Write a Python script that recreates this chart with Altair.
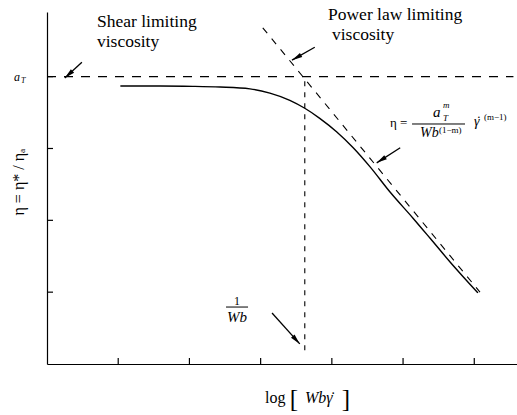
import math
import altair as alt
import pandas as pd

# ---------------- data ----------------
curve_x = [1.03, 1.59, 2.05, 2.43, 2.85, 3.13, 3.41, 3.62, 3.83, 4.07, 4.30, 4.54, 4.82, 5.14, 5.38, 5.66, 6.05]
curve_y = [3.87, 3.87, 3.865, 3.855, 3.83, 3.77, 3.67, 3.56, 3.42, 3.23, 3.01, 2.74, 2.39, 2.03, 1.75, 1.42, 0.99]
power_x = [3.03, 6.08]
power_y = [4.68, 1.00]
a_T = 4.0
inv_Wb = 3.62
x_ticks = [1, 2, 3, 4, 5, 6]
y_ticks = [1, 2, 3, 4]

# arrows: tail -> tip (data units)
arrow_x1 = [0.49, 3.76, 3.16, 4.96]
arrow_y1 = [4.20, 4.41, 0.71, 3.01]
arrow_x2 = [0.25, 3.44, 3.55, 4.63]
arrow_y2 = [3.98, 4.23, 0.28, 2.80]

# ---------------- geometry ----------------
W, H = 470, 352
XD, YD = [0, 6.6], [0, 4.9]
sx, sy = W / (XD[1] - XD[0]), H / (YD[1] - YD[0])
FONT = "Liberation Serif"

XS = alt.Scale(domain=XD, nice=False, zero=False)
YS = alt.Scale(domain=YD, nice=False, zero=False)
AX = alt.Axis(title=None, ticks=False, labels=False, grid=False, domain=True,
              domainColor="black", domainWidth=1.2)


def ex(f):
    return alt.X(f, type="quantitative", scale=XS, axis=AX)


def ey(f):
    return alt.Y(f, type="quantitative", scale=YS, axis=AX)


# ---------------- layers ----------------
curve_df = pd.DataFrame({"x": curve_x, "y": curve_y})
curve = alt.Chart(curve_df).mark_line(color="black", strokeWidth=1.4, interpolate="monotone").encode(
    x=ex("x"), y=ey("y"))

power_df = pd.DataFrame({"x": power_x, "y": power_y})
power = alt.Chart(power_df).mark_line(color="black", strokeWidth=1.1, strokeDash=[7, 7]).encode(
    x=ex("x"), y=ey("y"))

hdash = alt.Chart(pd.DataFrame({"x": [XD[0]], "x2": [6.55], "y": [a_T]})).mark_rule(
    color="black", strokeWidth=1.1, strokeDash=[9, 8]).encode(x=ex("x"), x2="x2:Q", y=ey("y"))

vdash = alt.Chart(pd.DataFrame({"x": [inv_Wb], "y": [0.19], "y2": [a_T]})).mark_rule(
    color="black", strokeWidth=1.1, strokeDash=[5, 6]).encode(x=ex("x"), y=ey("y"), y2="y2:Q")

yt = alt.Chart(pd.DataFrame({"v": y_ticks})).mark_rule(color="black", strokeWidth=1.2).encode(
    y=ey("v"), x=alt.value(0), x2=alt.value(6))
xt = alt.Chart(pd.DataFrame({"v": x_ticks})).mark_rule(color="black", strokeWidth=1.2).encode(
    x=ex("v"), y=alt.value(H), y2=alt.value(H - 6))

arr_df = pd.DataFrame({"x1": arrow_x1, "y1": arrow_y1, "x2": arrow_x2, "y2": arrow_y2})
arr_df["ang"] = [
    math.degrees(math.atan2((b - a) * sx, (d - c) * sy)) % 360
    for a, b, c, d in zip(arrow_x1, arrow_x2, arrow_y1, arrow_y2)
]
shafts = alt.Chart(arr_df).mark_rule(color="black", strokeWidth=1.3).encode(
    x=ex("x1"), y=ey("y1"), x2="x2:Q", y2="y2:Q")
heads = alt.Chart(arr_df).mark_point(
    shape="M0,0L-0.45,2L0.45,2Z", filled=True, color="black", opacity=1, size=110, strokeWidth=0
).encode(x=ex("x2"), y=ey("y2"), angle=alt.Angle("ang:Q", scale=None))

# fraction bars
bars = alt.Chart(pd.DataFrame({"x": [2.514, 5.126], "x2": [2.823, 5.870], "y": [0.793, 3.341]})).mark_rule(
    color="black", strokeWidth=1.0).encode(x=ex("x"), x2="x2:Q", y=ey("y"))


def text_layer(texts, xs, ys, sizes, italic=False, align="left", baseline="alphabetic", angle=0):
    df = pd.DataFrame({"t": texts, "x": xs, "y": ys, "s": sizes})
    kw = dict(font=FONT, color="black", align=align, baseline=baseline, angle=angle)
    if italic:
        kw["fontStyle"] = "italic"
    return alt.Chart(df).mark_text(**kw).encode(
        x=ex("x"), y=ey("y"), text="t:N", size=alt.Size("s:Q", scale=None, legend=None))


reg = text_layer(
    ["Shear limiting", "viscosity", "Power law limiting", "viscosity", "log", "[", "]",
     "η =", "(1−m)", "(m−1)"],
    [0.702, 0.702, 3.946, 4.002, 3.061, 3.41, 4.14, 4.817, 5.505, 6.137],
    [4.691, 4.413, 4.788, 4.510, -0.543, -0.60, -0.60, 3.299, 3.215, 3.396],
    [17.5, 17.5, 17.5, 17.5, 16, 25, 25, 13, 9, 9])

ital = text_layer(
    ["Wbγ", "a", "T", "m", "Wb", "γ", "a", "T"],
    [3.623, 5.421, 5.561, 5.561, 5.238, 5.996, -0.463, -0.365],
    [-0.543, 3.438, 3.382, 3.563, 3.160, 3.313, 3.939, 3.911],
    [16, 15, 9, 9, 14, 14, 12, 8], italic=True)

dots = text_layer(["˙", "˙"], [4.020, 6.065], [-0.543, 3.313], [16, 14], align="center")

one = text_layer(["1"], [2.668], [0.821], [12], align="center")
wb = text_layer(["Wb"], [2.668], [0.585], [15], italic=True, align="center")
ylab = text_layer(["η = η* / ηₐ"], [-0.393], [2.533], [16], align="center", baseline="middle", angle=270)

chart = alt.layer(
    hdash, vdash, power, curve, yt, xt, shafts, heads, bars, reg, ital, dots, one, wb, ylab
).properties(
    width=W, height=H,
    autosize=alt.AutoSizeParams(type="none"),
    padding={"left": 47, "top": 12, "right": 0, "bottom": 51},
    background="white",
).configure_view(stroke=None)

chart.save("out.html", embed_options={"renderer": "svg", "actions": False})
